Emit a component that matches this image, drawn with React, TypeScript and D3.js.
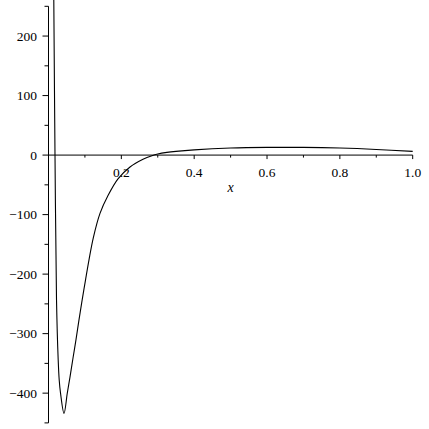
import React from "react";
import * as d3 from "d3";

// values
const xs = [
  0.01455, 0.01785, 0.022, 0.0266, 0.0294, 0.033, 0.0426, 0.0516, 0.059,
  0.0673, 0.0755, 0.0837, 0.092, 0.1016, 0.1112, 0.123, 0.1414, 0.1634,
  0.1908, 0.2238, 0.2595, 0.284, 0.3, 0.325, 0.35, 0.4, 0.5, 0.6, 0.7, 0.8,
  0.9, 1.0,
];
const ys = [
  261, 0, -243, -344, -378, -400, -434, -400, -373, -341, -310, -277, -245,
  -210, -176, -139, -98, -68, -40, -20, -7, -1, 1.8, 4.5, 6.3, 8.8, 11.8, 12.9,
  12.9, 11.8, 9.5, 6.2,
];

const yMajor = [-400, -300, -200, -100, 0, 100, 200];
const yMinor = [-450, -350, -250, -150, -50, 50, 150, 250];
const xMajor = [0.2, 0.4, 0.6, 0.8, 1.0];
const xMinor = [0.1, 0.3, 0.5, 0.7, 0.9];

const W = 429;
const H = 429;
const font = "Liberation Serif, Times New Roman, serif";

export default function App() {
  const x = d3.scaleLinear().domain([0, 1]).range([48.5, 412.7]);
  const y = d3.scaleLinear().domain([-450, 250]).range([422.9, 6.3]);

  const pts: [number, number][] = xs.map((v, i) => [v, ys[i]]);
  const line = d3
    .line<[number, number]>()
    .x((d) => x(d[0]))
    .y((d) => y(d[1]))
    .curve(d3.curveCatmullRom.alpha(0.5));

  const fmt = (v: number) => (v < 0 ? "\u2212" + Math.abs(v) : String(v));
  const ax = x(0);
  const ay = y(0);

  return (
    <svg
      width={W}
      height={H}
      style={{ position: "absolute", left: 0, top: 0, background: "#fff" }}
    >
      <defs>
        <clipPath id="plot">
          <rect x={0} y={0} width={W} height={y(-450) + 2} />
        </clipPath>
      </defs>

      {/* y axis */}
      <line x1={ax} x2={ax} y1={y(250)} y2={y(-450)} stroke="#000" strokeWidth={1} />
      {yMajor.map((v) => (
        <g key={"ym" + v}>
          <line x1={ax - 6} x2={ax} y1={y(v)} y2={y(v)} stroke="#000" />
          <text
            x={37}
            y={y(v)}
            dy="0.35em"
            textAnchor="end"
            fontFamily={font}
            fontSize={13.5}
          >
            {fmt(v)}
          </text>
        </g>
      ))}
      {yMinor.map((v) => (
        <line key={"yn" + v} x1={ax - 4} x2={ax} y1={y(v)} y2={y(v)} stroke="#000" />
      ))}

      {/* x axis */}
      <line x1={ax} x2={x(1)} y1={ay} y2={ay} stroke="#000" strokeWidth={1} />
      {xMajor.map((v) => (
        <g key={"xm" + v}>
          <line x1={x(v)} x2={x(v)} y1={ay} y2={ay + 4} stroke="#000" />
          <text
            x={x(v)}
            y={176.5}
            textAnchor="middle"
            fontFamily={font}
            fontSize={13.5}
          >
            {v.toFixed(1)}
          </text>
        </g>
      ))}
      {xMinor.map((v) => (
        <line key={"xn" + v} x1={x(v)} x2={x(v)} y1={ay} y2={ay + 2.5} stroke="#000" />
      ))}
      <text
        x={(x(0) + x(1)) / 2}
        y={191.5}
        textAnchor="middle"
        fontFamily={font}
        fontStyle="italic"
        fontSize={14}
      >
        x
      </text>

      {/* curve */}
      <path
        d={line(pts) || ""}
        fill="none"
        stroke="#000"
        strokeWidth={1.1}
        clipPath="url(#plot)"
      />
    </svg>
  );
}
